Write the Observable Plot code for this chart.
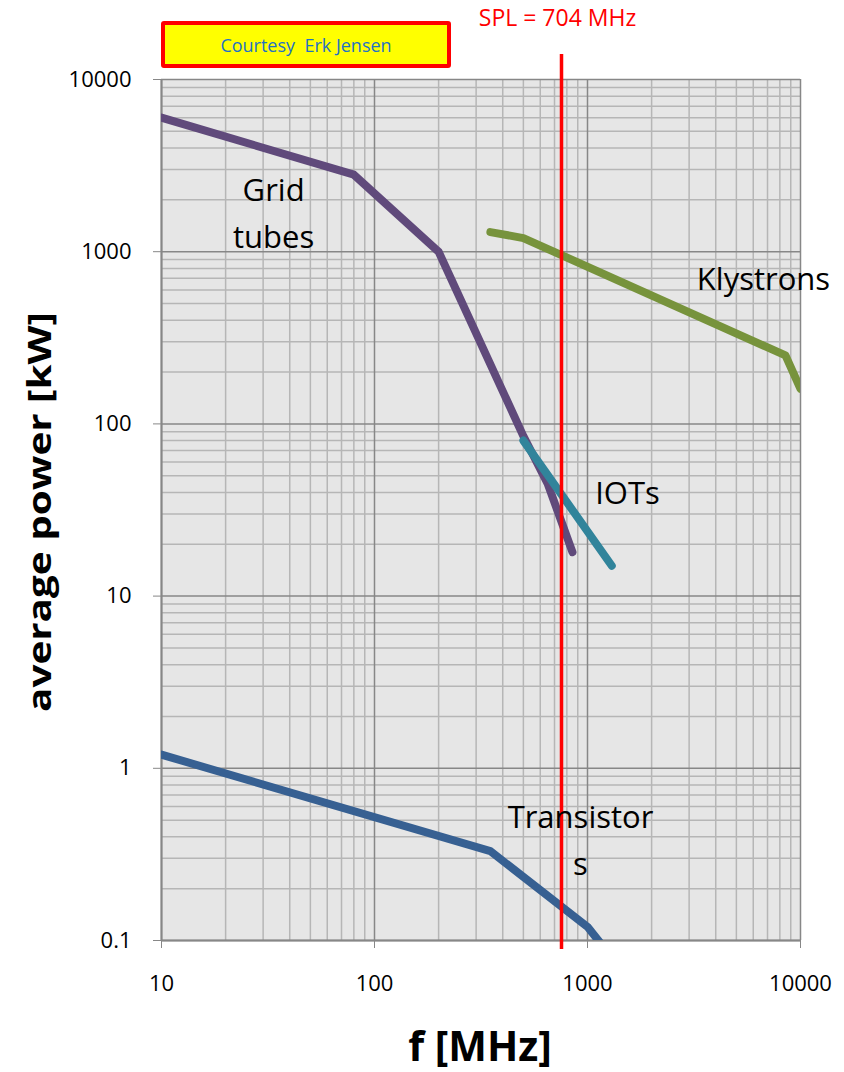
<!DOCTYPE html>
<html><head><meta charset="utf-8">
<script src="https://cdn.jsdelivr.net/npm/d3@7"></script>
<script src="https://cdn.jsdelivr.net/npm/@observablehq/plot@0.6"></script>
<style>
body{margin:0;background:#fff;}
#wrap{position:relative;width:844px;height:1072px;}
#courtesy{position:absolute;left:161px;top:21px;width:290px;height:47px;box-sizing:border-box;border:4px solid #ff0000;border-radius:3px;background:#ffff00;color:#1f72c4;font:18px "Open Sans",sans-serif;display:flex;align-items:center;justify-content:center;white-space:pre;}
</style></head><body>
<div id="wrap"><div id="courtesy">Courtesy  Erk Jensen</div></div>
<script>
// ---- data ----
const seriesNames = ["Grid tubes", "Klystrons", "IOTs", "Transistors"];
const seriesColors = ["#604a7b", "#77933c", "#31849b", "#376092"];

const gridTubesFreq = [10, 80, 200, 500, 650, 850];
const gridTubesPower = [6000, 2800, 1000, 85, 45, 18];

const klystronsFreq = [350, 500, 8500, 10000];
const klystronsPower = [1300, 1200, 250, 160];

const iotsFreq = [500, 1300];
const iotsPower = [80, 15];

const transistorsFreq = [10, 350, 1000, 1300];
const transistorsPower = [1.2, 0.33, 0.12, 0.08];

const xTickValues = [10, 100, 1000, 10000];
const yTickValues = [0.1, 1, 10, 100, 1000, 10000];

const splLineFreq = 755;          // where the red line is drawn
const splLabel = "SPL = 704 MHz";
const splTop = 13970, splBottom = 0.0887;

const labelText = ["Grid\ntubes", "Klystrons", "IOTs", "Transistor\ns"];
const labelFreq = [33.6, 6700, 1540, 927];
const labelPower = [1752, 732, 42, 0.402];

const xTitle = "f [MHz]";
const yTitle = "average power [kW]";

// ---- build tables ----
const freqs = [gridTubesFreq, klystronsFreq, iotsFreq, transistorsFreq];
const powers = [gridTubesPower, klystronsPower, iotsPower, transistorsPower];
const rows = [];
seriesNames.forEach((s, i) => freqs[i].forEach((f, j) => rows.push({series: s, f, p: powers[i][j]})));
const labels = labelText.map((t, i) => ({t, f: labelFreq[i], p: labelPower[i]}));

const xMinor = d3.scaleLog().domain([10, 10000]).ticks().filter(v => !xTickValues.includes(v));
const yMinor = d3.scaleLog().domain([0.1, 10000]).ticks().filter(v => !yTickValues.some(t => Math.abs(t - v) < 1e-9));

const fmt = d => String(d);

const chart = Plot.plot({
  width: 844,
  height: 1072,
  marginLeft: 161,
  marginRight: 44,
  marginTop: 79,
  marginBottom: 132,
  style: {fontFamily: "'Open Sans', sans-serif", color: "#000", background: "transparent"},
  x: {type: "log", domain: [10, 10000]},
  y: {type: "log", domain: [0.1, 10000]},
  color: {domain: seriesNames, range: seriesColors},
  marks: [
    Plot.frame({fill: "#e6e6e6", stroke: null}),
    Plot.gridX(xMinor, {stroke: "#b6b6b6", strokeOpacity: 1, strokeWidth: 1.5}),
    Plot.gridY(yMinor, {stroke: "#b6b6b6", strokeOpacity: 1, strokeWidth: 1.5}),
    Plot.gridX(xTickValues, {stroke: "#878787", strokeOpacity: 1, strokeWidth: 1.5}),
    Plot.gridY(yTickValues, {stroke: "#878787", strokeOpacity: 1, strokeWidth: 1.5}),
    Plot.axisX({ticks: xTickValues, tickFormat: fmt, tickSize: 8, tickPadding: 27, fontSize: 22, stroke: "#878787", fill: "#000", label: null}),
    Plot.axisY({ticks: yTickValues, tickFormat: fmt, tickSize: 8, tickPadding: 22, fontSize: 22, stroke: "#878787", fill: "#000", label: null}),
    Plot.ruleX([10], {stroke: "#878787", strokeWidth: 2}),
    Plot.ruleY([0.1], {stroke: "#878787", strokeWidth: 2}),
    Plot.line(rows, {x: "f", y: "p", z: "series", stroke: "series", strokeWidth: 8, strokeLinecap: "round", strokeLinejoin: "round", clip: true}),
    Plot.ruleX([splLineFreq], {y1: splTop, y2: splBottom, stroke: "#ff0000", strokeWidth: 3.5}),
    Plot.text([splLabel], {x: splLineFreq, frameAnchor: "top", dy: -70, dx: -4, fill: "#ff0000", fontSize: 23}),
    Plot.text(labels, {x: "f", y: "p", text: "t", fontSize: 31, lineHeight: 1.5, fill: "#000"}),
    Plot.text([xTitle], {frameAnchor: "bottom", dy: 120, dx: -1, fontSize: 41, fontWeight: "bold", fill: "#000"}),
    Plot.text([yTitle], {frameAnchor: "left", dx: -121, dy: 202, rotate: -90, textAnchor: "start", fontSize: 33, fontWeight: "bold", fill: "#000"})
  ]
});
document.getElementById("wrap").appendChild(chart);
chart.style.position = "absolute";
chart.style.left = "0";
chart.style.top = "0";
chart.querySelectorAll("text").forEach(t => {
  if (t.textContent === yTitle) { t.setAttribute("textLength", 400); t.setAttribute("lengthAdjust", "spacingAndGlyphs"); }
});
document.getElementById("wrap").appendChild(document.getElementById("courtesy"));
</script>
</body></html>
